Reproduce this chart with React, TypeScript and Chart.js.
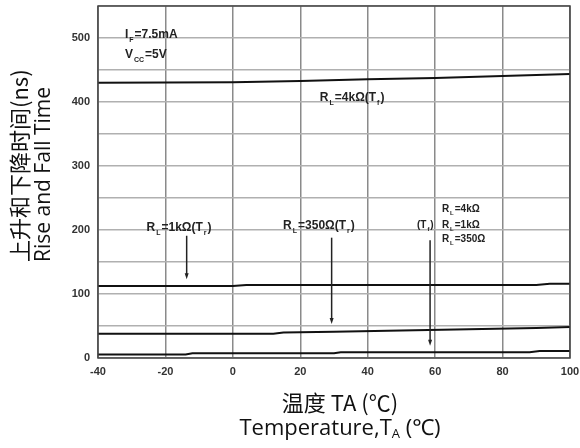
import React, { useEffect, useRef } from "react";
import { Chart, registerables } from "chart.js";
Chart.register(...registerables);

const temps4k = [-40, -20, 0, 20, 40, 60, 80, 100];
const rise4k = [430, 430.5, 431, 432.7, 435.4, 437.4, 440.5, 443.6];
const temps1k = [-40, 0, 4, 90, 94, 100];
const rise1k = [112.5, 112.5, 114, 114, 116, 116];
const temps350 = [-40, 12, 15, 30, 50, 70, 90, 100];
const rise350 = [38, 38, 40, 41, 43, 45, 47, 48.5];
const tempsFall = [-40, -14, -12, 30, 32, 88, 91, 100];
const fall = [5.5, 5.5, 7.5, 7.5, 9, 9, 11, 11];

const xTicks = [-40, -20, 0, 20, 40, 60, 80, 100];
const yLabelled = [0, 100, 200, 300, 400, 500];

type Seg = { t: string; sub?: boolean };
type Note = { x: number; y: number; size: number; segs: Seg[] };
type Arrow = { x: number; y1: number; y2: number };

const notes: Note[] = [
  { x: -32.0, y: 505, size: 12, segs: [{ t: "I" }, { t: "F", sub: true }, { t: "=7.5mA" }] },
  { x: -32.0, y: 474, size: 12, segs: [{ t: "V" }, { t: "CC", sub: true }, { t: "=5V" }] },
  { x: 25.8, y: 406, size: 12, segs: [{ t: "R" }, { t: "L", sub: true }, { t: "=4kΩ(T" }, { t: "f", sub: true }, { t: ")" }] },
  { x: -25.6, y: 204, size: 12, segs: [{ t: "R" }, { t: "L", sub: true }, { t: "=1kΩ(T" }, { t: "r", sub: true }, { t: ")" }] },
  { x: 14.9, y: 206, size: 12, segs: [{ t: "R" }, { t: "L", sub: true }, { t: "=350Ω(T" }, { t: "r", sub: true }, { t: ")" }] },
  { x: 54.6, y: 208, size: 10, segs: [{ t: "(T" }, { t: "f", sub: true }, { t: ")" }] },
  { x: 62, y: 233, size: 10, segs: [{ t: "R" }, { t: "L", sub: true }, { t: "=4kΩ" }] },
  { x: 62, y: 208, size: 10, segs: [{ t: "R" }, { t: "L", sub: true }, { t: "=1kΩ" }] },
  { x: 62, y: 186, size: 10, segs: [{ t: "R" }, { t: "L", sub: true }, { t: "=350Ω" }] },
];

const arrows: Arrow[] = [
  { x: -13.7, y1: 191, y2: 123 },
  { x: 29.3, y1: 188, y2: 53 },
  { x: 58.5, y1: 184, y2: 19 },
];

const pts = (xs: number[], ys: number[]) => xs.map((x, i) => ({ x, y: ys[i] }));

const annot = {
  id: "annot",
  afterDraw(chart: any) {
    const { ctx, chartArea: a, scales } = chart;
    const sx = scales.x, sy = scales.y;
    ctx.save();
    // frame
    ctx.strokeStyle = "#444";
    ctx.lineWidth = 1.5;
    ctx.strokeRect(a.left, a.top, a.right - a.left, a.bottom - a.top);
    // notes
    ctx.fillStyle = "#222";
    ctx.textBaseline = "middle";
    ctx.textAlign = "left";
    for (const n of notes) {
      let px = sx.getPixelForValue(n.x);
      const py = sy.getPixelForValue(n.y);
      for (const s of n.segs) {
        if (s.sub) {
          ctx.font = `bold ${Math.round(n.size * 0.62)}px 'Liberation Sans', Arial, sans-serif`;
          px += 1;
          ctx.fillText(s.t, px, py + n.size * 0.45);
          px += ctx.measureText(s.t).width + 1;
        } else {
          ctx.font = `bold ${n.size}px 'Liberation Sans', Arial, sans-serif`;
          ctx.fillText(s.t, px, py);
          px += ctx.measureText(s.t).width;
        }
      }
    }
    // arrows
    ctx.strokeStyle = "#222";
    ctx.fillStyle = "#222";
    ctx.lineWidth = 1.5;
    for (const ar of arrows) {
      const px = sx.getPixelForValue(ar.x);
      const p1 = sy.getPixelForValue(ar.y1);
      const p2 = sy.getPixelForValue(ar.y2);
      ctx.beginPath();
      ctx.moveTo(px, p1);
      ctx.lineTo(px, p2 - 4);
      ctx.stroke();
      ctx.beginPath();
      ctx.moveTo(px - 2, p2 - 6);
      ctx.lineTo(px + 2, p2 - 6);
      ctx.lineTo(px, p2);
      ctx.closePath();
      ctx.fill();
    }
    // x axis title
    ctx.fillStyle = "#111";
    const cx = (a.left + a.right) / 2 + 6;
    ctx.textAlign = "center";
    ctx.textBaseline = "middle";
    ctx.font = "22px 'Noto Sans CJK SC', 'Noto Sans', sans-serif";
    ctx.fillText("温度 TA (℃)", cx, 403);
    const big = "22px 'Open Sans', 'Noto Sans', sans-serif";
    const small = "13px 'Open Sans', 'Noto Sans', sans-serif";
    const parts: Seg[] = [{ t: "Temperature,T" }, { t: "A", sub: true }, { t: " (℃)" }];
    let total = 0;
    for (const p of parts) {
      ctx.font = p.sub ? small : big;
      total += ctx.measureText(p.t).width;
    }
    let px = cx - total / 2;
    ctx.textAlign = "left";
    for (const p of parts) {
      ctx.font = p.sub ? small : big;
      ctx.fillText(p.t, px, p.sub ? 434 : 429);
      px += ctx.measureText(p.t).width;
    }
    // y axis title
    ctx.save();
    ctx.translate(20, 262);
    ctx.rotate(-Math.PI / 2);
    ctx.textAlign = "left";
    ctx.textBaseline = "middle";
    ctx.font = "22px 'Noto Sans CJK SC', 'Noto Sans', sans-serif";
    ctx.fillText("上升和下降时间(ns)", 0, 0);
    ctx.font = "21px 'Open Sans', 'Noto Sans', sans-serif";
    ctx.fillText("Rise and Fall Time", 0, 24);
    ctx.restore();
    ctx.restore();
  },
};

export default function App() {
  const ref = useRef<HTMLCanvasElement>(null);
  useEffect(() => {
    const ds = (xs: number[], ys: number[]) => ({
      data: pts(xs, ys),
      borderColor: "#111",
      borderWidth: 2,
      pointRadius: 0,
      fill: false,
      tension: 0,
    });
    const chart = new Chart(ref.current!, {
      type: "line",
      data: {
        datasets: [
          ds(temps4k, rise4k),
          ds(temps1k, rise1k),
          ds(temps350, rise350),
          ds(tempsFall, fall),
        ],
      },
      plugins: [annot],
      options: {
        responsive: false,
        animation: false,
        layout: { padding: { top: 6, right: 10, left: 0, bottom: 0 } },
        plugins: { legend: { display: false }, tooltip: { enabled: false } },
        scales: {
          x: {
            type: "linear",
            min: -40,
            max: 100,
            afterBuildTicks: (s: any) => {
              s.ticks = xTicks.map((v) => ({ value: v }));
            },
            afterFit: (s: any) => {
              s.height = 90;
              s.paddingLeft = 0;
              s.paddingRight = 0;
            },
            grid: { color: "#8a8a8a", lineWidth: 1.5, drawTicks: false },
            border: { display: false },
            ticks: {
              padding: 7,
              color: "#333",
              font: { family: "'Liberation Sans', Arial, sans-serif", size: 11, weight: "bold" },
              maxRotation: 0,
            },
          },
          y: {
            type: "linear",
            min: 0,
            max: 550,
            afterBuildTicks: (s: any) => {
              const t = [];
              for (let v = 0; v <= 550; v += 50) t.push({ value: v });
              s.ticks = t;
            },
            afterFit: (s: any) => {
              s.width = 98;
              s.paddingTop = 0;
              s.paddingBottom = 0;
            },
            grid: { color: "#b0b0b0", lineWidth: 1.5, drawTicks: false },
            border: { display: false },
            ticks: {
              padding: 8,
              color: "#333",
              font: { family: "'Liberation Sans', Arial, sans-serif", size: 11, weight: "bold" },
              callback: (v: any) => (yLabelled.includes(Number(v)) ? String(v) : ""),
            },
          },
        },
      },
    } as any);
    return () => chart.destroy();
  }, []);
  return (
    <div style={{ position: "fixed", left: 0, top: 0, width: 580, height: 448, background: "#fff" }}>
      <canvas ref={ref} width={580} height={448} />
    </div>
  );
}
